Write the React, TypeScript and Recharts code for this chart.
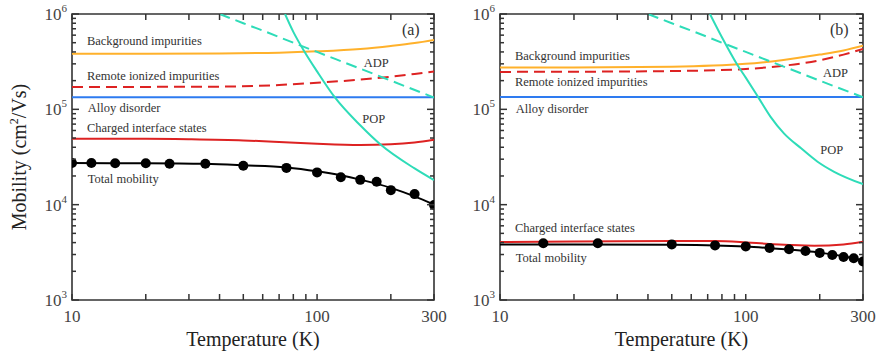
import React from "react";
import {
  ComposedChart,
  Line,
  Scatter,
  XAxis,
  YAxis,
  ReferenceArea,
  ReferenceDot,
} from "recharts";

const FONT = "'Liberation Serif', 'Times New Roman', serif";
const INK = "#333";

// axis ticks
const xTicks = [10, 20, 30, 40, 50, 60, 70, 80, 90, 100, 200, 300];
const xLabels = [10, 100, 300];
const yTicks = [
  1000, 2000, 3000, 4000, 5000, 6000, 7000, 8000, 9000,
  10000, 20000, 30000, 40000, 50000, 60000, 70000, 80000, 90000,
  100000, 200000, 300000, 400000, 500000, 600000, 700000, 800000, 900000,
  1000000,
];

// ---- panel (a) ----
const bgA_T = [10, 20, 40, 70, 100, 150, 200, 250, 300];
const bgA_V = [3.84e5, 3.84e5, 3.86e5, 3.93e5, 4.06e5, 4.3e5, 4.62e5, 4.95e5, 5.34e5];
const remA_T = [10, 20, 40, 70, 100, 150, 200, 250, 300];
const remA_V = [1.72e5, 1.72e5, 1.73e5, 1.8e5, 1.9e5, 2.05e5, 2.2e5, 2.35e5, 2.5e5];
const alloyA_T = [10, 300];
const alloyA_V = [1.34e5, 1.34e5];
const cisA_T = [10, 20, 30, 50, 70, 100, 150, 200, 250, 300];
const cisA_V = [4.9e4, 4.9e4, 4.85e4, 4.72e4, 4.55e4, 4.35e4, 4.22e4, 4.3e4, 4.5e4, 4.8e4];
const adpA_T = [40, 50, 60, 80, 100, 150, 200, 300];
const adpA_V = [1e6, 8e5, 6.7e5, 5e5, 4e5, 2.67e5, 2e5, 1.33e5];
const popA_T = [74, 80, 89, 100, 118, 150, 181, 250, 300];
const popA_V = [1e6, 6.5e5, 4.0e5, 2.5e5, 1.34e5, 6.8e4, 4.3e4, 2.4e4, 1.81e4];
const totA_T = [10, 20, 35, 50, 75, 100, 125, 150, 200, 250, 300];
const totA_V = [2.73e4, 2.72e4, 2.68e4, 2.59e4, 2.46e4, 2.24e4, 2.03e4, 1.83e4, 1.5e4, 1.22e4, 1.0e4];
const dotsA_T = [10, 12, 15, 20, 25, 35, 50, 75, 100, 125, 150, 175, 200, 250, 300];
const dotsA_V = [2.73e4, 2.73e4, 2.72e4, 2.72e4, 2.69e4, 2.69e4, 2.56e4, 2.43e4, 2.18e4, 1.94e4, 1.82e4, 1.74e4, 1.42e4, 1.29e4, 9.9e3];

// ---- panel (b) ----
const bgB_T = [10, 20, 50, 100, 140, 200, 250, 300];
const bgB_V = [2.74e5, 2.75e5, 2.8e5, 3.0e5, 3.28e5, 3.75e5, 4.15e5, 4.65e5];
const remB_T = [10, 20, 50, 100, 140, 200, 250, 300];
const remB_V = [2.47e5, 2.48e5, 2.52e5, 2.65e5, 2.85e5, 3.27e5, 3.75e5, 4.3e5];
const alloyB_T = [10, 300];
const alloyB_V = [1.35e5, 1.35e5];
const cisB_T = [10, 20, 50, 75, 100, 120, 150, 190, 250, 300];
const cisB_V = [4.05e3, 4.1e3, 4.15e3, 4.15e3, 4.02e3, 3.9e3, 3.78e3, 3.71e3, 3.82e3, 4.08e3];
const adpB_T = [40, 50, 60, 80, 100, 150, 200, 300];
const adpB_V = [1e6, 8e5, 6.7e5, 5e5, 4e5, 2.67e5, 2e5, 1.34e5];
const popB_T = [71.5, 80, 92.5, 100, 112, 126, 143, 168, 196, 229, 300];
const popB_V = [1e6, 5.7e5, 2.92e5, 2.15e5, 1.36e5, 8.4e4, 5.6e4, 3.9e4, 2.82e4, 2.21e4, 1.64e4];
const totB_T = [10, 20, 50, 75, 100, 125, 150, 175, 200, 250, 300];
const totB_V = [3.83e3, 3.83e3, 3.8e3, 3.74e3, 3.63e3, 3.5e3, 3.38e3, 3.26e3, 3.14e3, 2.88e3, 2.6e3];
const dotsB_T = [15, 25, 50, 75, 100, 125, 150, 175, 200, 225, 250, 275, 300];
const dotsB_V = [3.93e3, 3.93e3, 3.83e3, 3.74e3, 3.65e3, 3.52e3, 3.41e3, 3.26e3, 3.12e3, 2.96e3, 2.83e3, 2.74e3, 2.53e3];

// label text and where it sits (data coordinates)
const notesA = [
  { text: "Background impurities", t: 11.5, v: 5.2e5 },
  { text: "Remote ionized impurities", t: 11.5, v: 2.23e5 },
  { text: "Alloy disorder", t: 11.6, v: 1.03e5 },
  { text: "Charged interface states", t: 11.5, v: 6.37e4 },
  { text: "Total mobility", t: 11.6, v: 1.86e4 },
  { text: "ADP", t: 155, v: 3.06e5 },
  { text: "POP", t: 153, v: 7.9e4 },
];
const notesB = [
  { text: "Background impurities", t: 11.5, v: 3.62e5 },
  { text: "Remote ionized impurities", t: 11.5, v: 1.95e5 },
  { text: "Alloy disorder", t: 11.6, v: 1.02e5 },
  { text: "Charged interface states", t: 11.5, v: 5.64e3 },
  { text: "Total mobility", t: 11.6, v: 2.74e3 },
  { text: "ADP", t: 206, v: 2.39e5 },
  { text: "POP", t: 201, v: 3.74e4 },
];

const zip = (t: number[], v: number[]) => t.map((x, i) => ({ t: x, v: v[i] }));

const ORANGE = "#ffb12b";
const RED = "#dd2222";
const BLUE = "#2e7bf0";
const TEAL = "#2edcb8";

const PLOT_H = 286;

function makeXTick() {
  return (props: any) => {
    const { x, y, payload } = props;
    const v = payload.value;
    return (
      <g>
        <line x1={x} x2={x} y1={y} y2={y - 6} stroke={INK} strokeWidth={1.5} />
        <line x1={x} x2={x} y1={y - PLOT_H} y2={y - PLOT_H + 6} stroke={INK} strokeWidth={1.5} />
        {xLabels.includes(v) && (
          <text x={x} y={y + 22} textAnchor="middle" fontSize={17} fill="#444" fontFamily={FONT}>
            {v}
          </text>
        )}
      </g>
    );
  };
}

function makeYTick(plotW: number) {
  return (props: any) => {
    const { x, y, payload } = props;
    const v = payload.value;
    const exp = Math.round(Math.log10(v));
    const major = Math.abs(v - Math.pow(10, exp)) < 1e-6 * v;
    const len = major ? 7 : 4;
    return (
      <g>
        <line x1={x} x2={x + len} y1={y} y2={y} stroke={INK} strokeWidth={1.5} />
        <line x1={x + plotW} x2={x + plotW - len} y1={y} y2={y} stroke={INK} strokeWidth={1.5} />
        {major && (
          <text x={x - 5} y={y + 6} textAnchor="end" fontSize={17} fill="#444" fontFamily={FONT}>
            10
            <tspan dy={-8} fontSize={11}>
              {exp}
            </tspan>
          </text>
        )}
      </g>
    );
  };
}

type Pt = { t: number; v: number };

interface PanelProps {
  tag: string;
  width: number;
  yAxisWidth: number;
  rightMargin: number;
  yTitle: boolean;
  bg: Pt[];
  rem: Pt[];
  alloy: Pt[];
  cis: Pt[];
  adp: Pt[];
  pop: Pt[];
  tot: Pt[];
  dots: Pt[];
  notes: { text: string; t: number; v: number }[];
  tagAt: Pt;
}

function Panel(p: PanelProps) {
  const plotW = p.width - p.yAxisWidth - p.rightMargin;
  const lineProps = {
    dataKey: "v",
    type: "monotone" as const,
    dot: false,
    activeDot: false,
    isAnimationActive: false,
    strokeWidth: 2,
  };
  return (
    <ComposedChart width={p.width} height={354} margin={{ top: 14, right: p.rightMargin, bottom: 0, left: 0 }}>
      <XAxis
        dataKey="t"
        type="number"
        scale="log"
        domain={[10, 300]}
        allowDataOverflow
        ticks={xTicks}
        interval={0}
        tickSize={0}
        tickMargin={0}
        tickLine={false}
        axisLine={false}
        height={54}
        tick={makeXTick()}
        label={{
          value: "Temperature (K)",
          position: "insideBottom",
          offset: 8,
          fontSize: 20,
          fill: "#222",
          fontFamily: FONT,
        }}
      />
      <YAxis
        type="number"
        scale="log"
        domain={[1000, 1000000]}
        allowDataOverflow
        ticks={yTicks}
        interval={0}
        tickSize={0}
        tickMargin={0}
        tickLine={false}
        axisLine={false}
        width={p.yAxisWidth}
        tick={makeYTick(plotW)}
        label={
          p.yTitle
            ? {
                content: (lp: any) => {
                  const vb = lp.viewBox;
                  return (
                    <text
                      transform={`translate(${vb.x + 26}, ${vb.y + vb.height / 2}) rotate(-90)`}
                      textAnchor="middle"
                      fontSize={20}
                      fill="#222"
                      fontFamily={FONT}
                    >
                      Mobility (cm
                      <tspan dy={-8} fontSize={12}>
                        2
                      </tspan>
                      <tspan dy={8}>/Vs)</tspan>
                    </text>
                  );
                },
              }
            : undefined
        }
      />
      <Line {...lineProps} data={p.bg} stroke={ORANGE} />
      <Line {...lineProps} data={p.rem} stroke={RED} strokeDasharray="11 6" />
      <Line {...lineProps} data={p.alloy} stroke={BLUE} />
      <Line {...lineProps} data={p.cis} stroke={RED} />
      <Line {...lineProps} data={p.adp} stroke={TEAL} strokeDasharray="11 6" />
      <Line {...lineProps} data={p.pop} stroke={TEAL} />
      <Line {...lineProps} data={p.tot} stroke="#000" />
      <Scatter
        data={p.dots}
        dataKey="v"
        isAnimationActive={false}
        shape={(sp: any) => <circle cx={sp.cx} cy={sp.cy} r={5} fill="#000" />}
      />
      <ReferenceArea x1={10} x2={300} y1={1000} y2={1000000} fill="none" stroke={INK} strokeWidth={1.6} />
      {p.notes.map((n) => (
        <ReferenceDot
          key={n.text}
          x={n.t}
          y={n.v}
          r={0}
          ifOverflow="visible"
          shape={(sp: any) => (
            <text x={sp.cx} y={sp.cy} dominantBaseline="central" fontSize={12.5} fill="#333" fontFamily={FONT}>
              {n.text}
            </text>
          )}
        />
      ))}
      <ReferenceDot
        x={p.tagAt.t}
        y={p.tagAt.v}
        r={0}
        ifOverflow="visible"
        shape={(sp: any) => (
          <text x={sp.cx} y={sp.cy} dominantBaseline="central" fontSize={16} fill="#333" fontFamily={FONT}>
            {p.tag}
          </text>
        )}
      />
    </ComposedChart>
  );
}

export default function App() {
  return (
    <div style={{ position: "absolute", left: 0, top: 0, width: 876, height: 354, background: "#fff" }}>
      <div style={{ position: "absolute", left: 0, top: 0 }}>
        <Panel
          tag="(a)"
          width={462}
          yAxisWidth={72}
          rightMargin={28}
          yTitle
          bg={zip(bgA_T, bgA_V)}
          rem={zip(remA_T, remA_V)}
          alloy={zip(alloyA_T, alloyA_V)}
          cis={zip(cisA_T, cisA_V)}
          adp={zip(adpA_T, adpA_V)}
          pop={zip(popA_T, popA_V)}
          tot={zip(totA_T, totA_V)}
          dots={zip(dotsA_T, dotsA_V)}
          notes={notesA}
          tagAt={{ t: 222, v: 6.96e5 }}
        />
      </div>
      <div style={{ position: "absolute", left: 438, top: 0 }}>
        <Panel
          tag="(b)"
          width={438}
          yAxisWidth={62}
          rightMargin={13}
          yTitle={false}
          bg={zip(bgB_T, bgB_V)}
          rem={zip(remB_T, remB_V)}
          alloy={zip(alloyB_T, alloyB_V)}
          cis={zip(cisB_T, cisB_V)}
          adp={zip(adpB_T, adpB_V)}
          pop={zip(popB_T, popB_V)}
          tot={zip(totB_T, totB_V)}
          dots={zip(dotsB_T, dotsB_V)}
          notes={notesB}
          tagAt={{ t: 220, v: 6.9e5 }}
        />
      </div>
    </div>
  );
}
